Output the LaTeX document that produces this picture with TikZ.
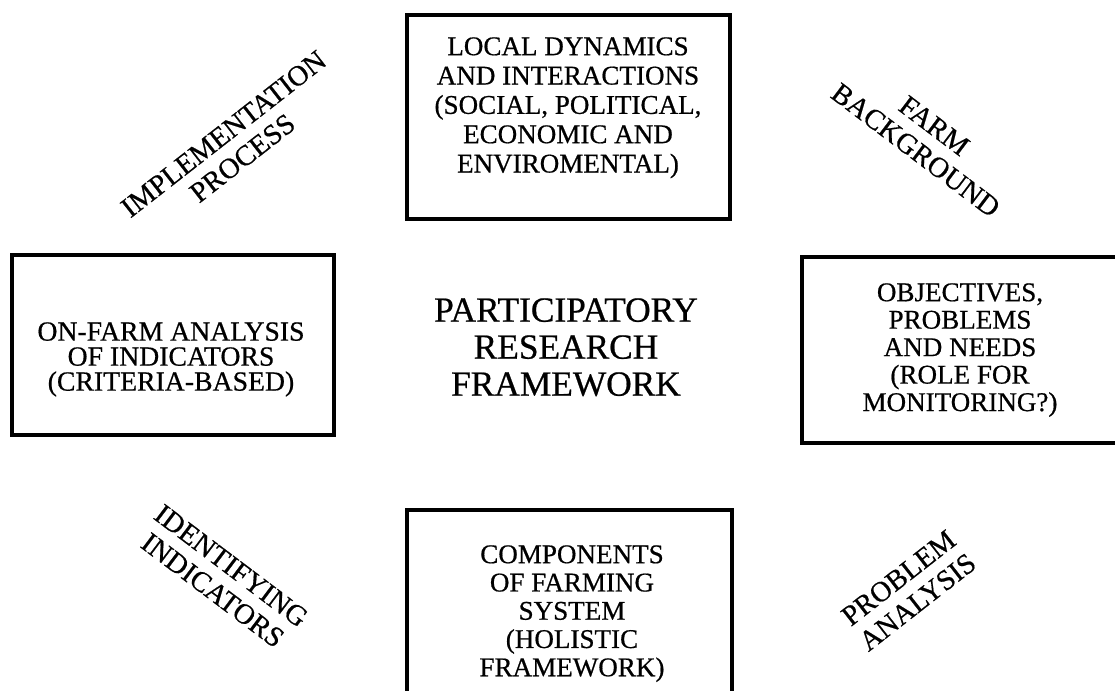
\documentclass[tikz,border=0pt]{standalone}
\usepackage{fontspec}
\setmainfont{Liberation Serif}
\newfontfamily\labelfont{Liberation Serif}[FakeBold=0.6]
\begin{document}
\begin{tikzpicture}[x=0.75pt, y=-0.75pt,
  frame/.style={line width=2.6pt, line join=miter},
  boxtext/.style={align=center, inner sep=0pt, anchor=north},
  slanted/.style={align=center, inner sep=0pt, font=\labelfont\fontsize{21.5}{23}\selectfont},
  fs/.style={font=\labelfont\fontsize{20.3}{#1}\selectfont}]
  \useasboundingbox (0,0) rectangle (1115,691);

  % frames around the four themes
  \draw[frame] (407,15) rectangle (730,219);
  \draw[frame] (12,255) rectangle (334,435);
  \draw[frame] (1115,257) -| (802,443) -- (1115,443);
  \draw[frame] (407,691) |- (732,510) -- (732,691);

  % box texts
  \node[boxtext, fs=22] (local) at (568,37)
    {LOCAL DYNAMICS\\AND INTERACTIONS\\(SOCIAL, POLITICAL,\\ECONOMIC AND\\ENVIROMENTAL)};
  \node[boxtext, font=\labelfont\fontsize{20.8}{18.75}\selectfont] (onfarm) at (171,322)
    {ON-FARM ANALYSIS\\OF INDICATORS\\(CRITERIA-BASED)};
  \node[boxtext, fs=20.6] (objectives) at (960,283)
    {OBJECTIVES,\\PROBLEMS\\AND NEEDS\\(ROLE FOR\\MONITORING?)};
  \node[boxtext, fs=21.2] (components) at (572,545)
    {COMPONENTS\\OF FARMING\\SYSTEM\\(HOLISTIC\\FRAMEWORK)};

  % central title
  \node[boxtext, font=\labelfont\fontsize{26.5}{27.75}\selectfont] (title) at (566,298)
    {PARTICIPATORY\\RESEARCH\\FRAMEWORK};

  % diagonal stage labels
  \node[slanted, rotate=38] (implementation) at (233,146) {IMPLEMENTATION\\PROCESS};
  \node[slanted, rotate=-37] (background) at (925,138) {FARM\\BACKGROUND};
  \node[slanted, rotate=-37] (identifying) at (222,578) {IDENTIFYING\\INDICATORS};
  \node[slanted, rotate=38] (problem) at (908,590) {PROBLEM\\ANALYSIS};
\end{tikzpicture}
\end{document}
